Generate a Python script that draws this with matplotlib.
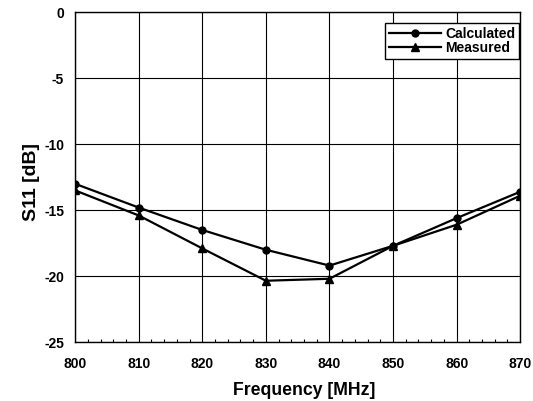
import matplotlib
matplotlib.use("Agg")
import matplotlib.pyplot as plt
from matplotlib.ticker import MultipleLocator

plt.rcParams['font.family'] = ['Liberation Sans', 'DejaVu Sans']
plt.rcParams['font.weight'] = 'bold'
plt.rcParams['axes.unicode_minus'] = False

freq = [800, 810, 820, 830, 840, 850, 860, 870]
calculated = [-13.0, -14.8, -16.5, -18.0, -19.2, -17.7, -15.6, -13.6]
measured = [-13.5, -15.4, -17.9, -20.35, -20.2, -17.7, -16.1, -13.9]

fig = plt.figure(figsize=(5.33, 4.01), dpi=100)
ax = fig.add_axes([0.141, 0.147, 0.835, 0.822])

ax.plot(freq, calculated, '-o', color='black', lw=1.6, ms=5, label='Calculated')
ax.plot(freq, measured, '-^', color='black', lw=1.6, ms=6, label='Measured')

ax.set_xlim(800, 870)
ax.set_ylim(-25, 0)
ax.set_xticks(range(800, 871, 10))
ax.set_yticks(range(-25, 1, 5))
ax.xaxis.set_minor_locator(MultipleLocator(2))
ax.grid(True, which='major', color='black', lw=0.8)
ax.tick_params(which='major', length=0, labelsize=10, pad=8)
ax.tick_params(which='major', axis='x', pad=11)
ax.tick_params(which='minor', axis='x', direction='in', length=2.5, width=0.8)
for s in ax.spines.values():
    s.set_linewidth(1.0)

ax.set_xlabel('Frequency [MHz]', fontsize=12.7, fontweight='bold', labelpad=8)
ax.xaxis.label.set_x(0.515)
ax.set_ylabel('S11 [dB]', fontsize=14, fontweight='bold', labelpad=3)
ax.yaxis.label.set_y(0.487)

leg = ax.legend(loc='upper right', bbox_to_anchor=(0.998, 0.968), fontsize=10,
                frameon=True, fancybox=False, edgecolor='black', framealpha=1,
                handlelength=3.7, borderaxespad=0, handletextpad=0.3,
                labelspacing=0.0, borderpad=0.3)
leg.get_frame().set_linewidth(1.0)

fig.savefig('out.png', dpi=100)
